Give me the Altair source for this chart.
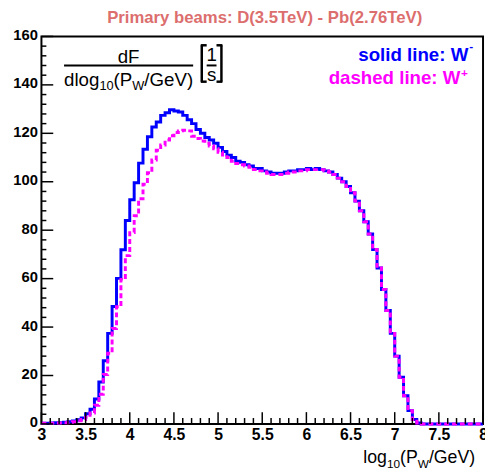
import altair as alt
import pandas as pd

# ---------------- data ----------------
x_start = 3.0
bin_width = 0.05

# W- (solid blue), 100 bins of 0.05 from 3.0 to 8.0
w_minus = [0.3, 0.3, 0.4, 0.5, 0.5, 0.7, 0.9, 1.2, 1.7, 2.5,
           4.2, 6.1, 10.3, 17.3, 26.1, 37.4, 48.5, 60.1, 71.9, 84.0,
           92.6, 99.6, 107.7, 113.4, 118.6, 122.6, 124.7, 127.4, 128.5, 129.7,
           129.2, 128.8, 127.4, 125.6, 124.0, 121.6, 120.0, 118.3, 117.2, 115.9,
           114.2, 112.5, 111.0, 110.0, 108.5, 108.0, 107.0, 106.5, 105.5, 105.5,
           104.5, 104.0, 103.5, 103.5, 103.5, 104.0, 104.5, 104.5, 105.0, 105.0,
           105.5, 105.0, 105.5, 105.0, 104.5, 104.0, 103.0, 101.5, 100.0, 98.0,
           95.5, 92.0, 88.0, 83.5, 78.4, 72.0, 64.4, 55.5, 46.8, 37.4,
           28.0, 19.3, 11.6, 5.5, 1.8, 0.4, 0, 0, 0, 0,
           0, 0, 0, 0, 0, 0, 0, 0, 0, 0]

# W+ (dashed magenta)
w_plus = [0.3, 0.3, 0.3, 0.4, 0.4, 0.5, 0.7, 0.9, 1.3, 1.8,
          2.8, 4.5, 7.7, 12.3, 20.4, 29.2, 39.4, 48.4, 59.7, 69.5,
          79.0, 86.0, 93.0, 99.0, 103.7, 109.0, 113.0, 115.2, 117.2, 119.0,
          120.3, 121.0, 121.3, 121.0, 118.8, 117.9, 116.8, 115.9, 114.8, 113.6,
          112.2, 111.0, 110.0, 108.5, 107.5, 107.0, 106.5, 106.0, 105.0, 104.5,
          104.0, 103.5, 103.0, 103.0, 103.0, 103.5, 104.0, 104.0, 104.5, 104.5,
          105.0, 105.0, 105.0, 105.0, 104.5, 104.0, 103.0, 101.5, 100.0, 98.0,
          95.5, 92.0, 88.0, 83.5, 78.4, 72.0, 64.4, 55.5, 46.8, 37.4,
          28.0, 19.3, 11.6, 5.5, 1.8, 0.4, 0, 0, 0, 0,
          0, 0, 0, 0, 0, 0, 0, 0, 0, 0]

x_major_ticks = [3, 3.5, 4, 4.5, 5, 5.5, 6, 6.5, 7, 7.5, 8]
x_minor_ticks = [round(3 + 0.1 * i, 1) for i in range(51) if i % 5 != 0]
y_major_ticks = [0, 20, 40, 60, 80, 100, 120, 140, 160]
y_minor_ticks = [v for v in range(0, 161, 4) if v % 20 != 0]

title_text = "Primary beams: D(3.5TeV) - Pb(2.76TeV)"
legend_minus = "solid line:  W"
legend_plus = "dashed line: W"

# ---------------- layout ----------------
W, H = 449, 394
FONT = "Liberation Sans"


def steps(values):
    xs = [round(x_start + bin_width * i, 4) for i in range(len(values) + 1)]
    ys = list(values) + [values[-1]]
    return pd.DataFrame({"x": xs, "y": ys})


xscale = alt.Scale(domain=[3, 8], nice=False, zero=False)
yscale = alt.Scale(domain=[0, 160], nice=False)

xaxis = alt.Axis(values=x_major_ticks, format="~g", ticks=False, tickSize=0,
                 domain=False, grid=False, labelFlush=False,
                 labelFont=FONT, labelFontSize=16, labelFontWeight="bold",
                 labelColor="black", labelPadding=3, title=None)
yaxis = alt.Axis(values=y_major_ticks, format="d", ticks=False, tickSize=0, domain=False,
                 grid=False, labelFont=FONT, labelFontSize=15,
                 labelFontWeight="bold", labelColor="black",
                 labelPadding=4, labelFlush=False, labelBaseline="middle",
                 labelOffset=-2, title=None)

blue = alt.Chart(steps(w_minus)).mark_line(
    interpolate="step-after", color="#0000ff", strokeWidth=3, strokeJoin="miter"
).encode(
    x=alt.X("x:Q", scale=xscale, axis=xaxis),
    y=alt.Y("y:Q", scale=yscale, axis=yaxis),
)

magenta = alt.Chart(steps(w_plus)).mark_line(
    interpolate="step-after", color="#ff00ff", strokeWidth=3,
    strokeDash=[5, 3], strokeJoin="miter"
).encode(
    x=alt.X("x:Q", scale=xscale, axis=xaxis),
    y=alt.Y("y:Q", scale=yscale, axis=yaxis),
)


# tick marks pointing inward (ROOT style)
def xticks(vals, length):
    return alt.Chart(pd.DataFrame({"x": vals})).mark_rule(color="black", strokeWidth=1.5).encode(
        x=alt.X("x:Q", scale=xscale, axis=xaxis),
        y=alt.value(H), y2=alt.value(H - length))


def yticks(vals, length):
    return alt.Chart(pd.DataFrame({"y": vals})).mark_rule(color="black", strokeWidth=1.5).encode(
        y=alt.Y("y:Q", scale=yscale, axis=yaxis),
        x=alt.value(0), x2=alt.value(length))


one = pd.DataFrame({"a": [0]})


def txt(s, x, y, size, color="black", weight="normal", align="left", baseline="alphabetic"):
    return alt.Chart(one).mark_text(
        text=s, font=FONT, fontSize=size, fontWeight=weight, color=color,
        align=align, baseline=baseline
    ).encode(x=alt.value(x), y=alt.value(y))


def rule(x1, x2, y1, y2, width=2):
    return alt.Chart(one).mark_rule(color="black", strokeWidth=width).encode(
        x=alt.value(x1), x2=alt.value(x2), y=alt.value(y1), y2=alt.value(y2))


ARIAL = {'d': 556, 'l': 222, 'o': 556, 'g': 556, '1': 556, '0': 556, '(': 333,
         'P': 667, 'W': 944, '/': 278, 'G': 778, 'e': 556, 'V': 667, ')': 333}


def tw(s, size):
    return sum(ARIAL[c] for c in s) * size / 1000.0


def compose(pieces, x0, base):
    out = []
    x = x0
    for s, size, dy in pieces:
        out.append(txt(s, x, base + dy, size))
        x += tw(s, size)
    return out


F, S = 19, 13
denom = [("dlog", F, 0), ("10", S, 4), ("(P", F, 0), ("W", S, 4), ("/GeV)", F, 0)]
dw = sum(tw(s, z) for s, z, _ in denom)
dx0 = 23
fraction = compose(denom, dx0, 50.5)
fraction.append(txt("dF", dx0 + dw / 2, 26.5, 19, align="center"))
fraction.append(rule(dx0, dx0 + dw, 29.5, 29.5, 2))

# [1/s]
unit = [
    rule(163, 163, 9, 46, 2.5), rule(162, 168, 9, 9, 2.5), rule(162, 168, 46, 46, 2.5),
    rule(183, 183, 9, 46, 2.5), rule(178, 184, 9, 9, 2.5), rule(178, 184, 46, 46, 2.5),
    txt("1", 173, 25, 19, align="center"),
    txt("s", 173, 45, 19, align="center"),
    rule(168, 178, 29.5, 29.5, 2),
]

F2, S2 = 18, 12
xt = [("log", F2, 0), ("10", S2, 5), ("(P", F2, 0), ("W", S2, 5), ("/GeV)", F2, 0)]
xtw = sum(tw(s, z) for s, z, _ in xt)
xtitle = compose(xt, 441 - xtw, 433.5)

legend = [
    txt(legend_minus, 434, 24.5, 19, color="#0000ff", weight="bold", align="right"),
    txt("-", 435, 14, 12, color="#0000ff", weight="bold"),
    txt(legend_plus, 426, 48.5, 19, color="#ff00ff", weight="bold", align="right"),
    txt("+", 426.5, 41, 12, color="#ff00ff", weight="bold"),
]

title = [txt(title_text, 227, -14, 17, color="#dc6e6e", weight="bold", align="center")]

layers = ([blue, magenta,
           xticks(x_major_ticks, 12), xticks(x_minor_ticks, 6),
           yticks(y_major_ticks, 12), yticks(y_minor_ticks, 5)]
          + fraction + unit + xtitle + legend + title)

chart = alt.layer(*layers).properties(
    width=W, height=H,
    autosize=alt.AutoSizeParams(type="none"),
    padding={"left": 34, "top": 25, "right": 2, "bottom": 48},
    background="white",
).configure_view(stroke="black", strokeWidth=2, fill="white")

chart.save("out.html", embed_options={"renderer": "svg", "actions": False})
